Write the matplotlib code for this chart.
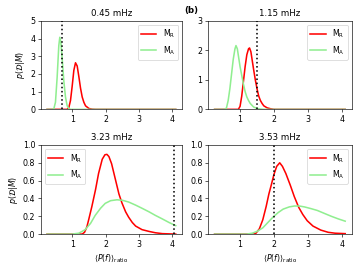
import matplotlib
matplotlib.use("Agg")
import matplotlib.pyplot as plt

titles = ["0.45 mHz", "1.15 mHz", "3.23 mHz", "3.53 mHz"]
obs_ratio = [0.70, 1.50, 4.06, 2.00]
ylims = [5, 3, 1, 1]

# Panel 1 (0.45 mHz)
r1_x = [0.25, 0.85, 0.90, 0.95, 1.00, 1.05, 1.10, 1.15, 1.20, 1.25, 1.30, 1.35, 1.40, 1.50, 1.60, 1.70, 4.10]
r1_y = [0, 0, 0.1, 0.5, 1.3, 2.2, 2.63, 2.45, 1.85, 1.2, 0.7, 0.4, 0.2, 0.05, 0.01, 0, 0]
a1_x = [0.25, 0.40, 0.45, 0.50, 0.55, 0.60, 0.63, 0.66, 0.70, 0.75, 0.80, 0.85, 0.90, 0.95, 4.10]
a1_y = [0, 0, 0.02, 0.4, 1.8, 3.6, 4.07, 3.8, 2.9, 1.6, 0.7, 0.2, 0.05, 0, 0]

# Panel 2 (1.15 mHz)
r2_x = [0.25, 0.95, 1.00, 1.05, 1.10, 1.15, 1.20, 1.25, 1.28, 1.32, 1.36, 1.40, 1.45, 1.50, 1.55,
        1.60, 1.65, 1.70, 1.80, 1.90, 2.00, 4.10]
r2_y = [0, 0, 0.1, 0.45, 0.95, 1.45, 1.85, 2.05, 2.08, 1.95, 1.65, 1.35, 1.0, 0.7, 0.45,
        0.3, 0.2, 0.12, 0.05, 0.02, 0, 0]
a2_x = [0.25, 0.55, 0.60, 0.65, 0.70, 0.75, 0.80, 0.85, 0.88, 0.92, 0.96, 1.00, 1.05, 1.10, 1.15,
        1.20, 1.25, 1.30, 1.40, 1.50, 1.60, 1.70, 4.10]
a2_y = [0, 0, 0.05, 0.3, 0.7, 1.2, 1.7, 2.05, 2.16, 2.05, 1.75, 1.45, 1.15, 0.85, 0.6,
        0.42, 0.3, 0.2, 0.08, 0.03, 0.01, 0, 0]

# Panel 3 (3.23 mHz)
r3_x = [0.25, 1.30, 1.37, 1.44, 1.50, 1.59, 1.70, 1.79, 1.90, 1.98, 2.04, 2.10, 2.18, 2.29, 2.40,
        2.49, 2.60, 2.69, 2.80, 2.90, 3.09, 3.30, 3.49, 3.70, 4.10]
r3_y = [0, 0, 0.02, 0.08, 0.17, 0.31, 0.5, 0.68, 0.84, 0.89, 0.895, 0.87, 0.79, 0.62, 0.45,
        0.35, 0.25, 0.19, 0.13, 0.09, 0.05, 0.03, 0.015, 0.005, 0]
a3_x = [0.25, 1.00, 1.20, 1.39, 1.55, 1.69, 1.85, 1.99, 2.15, 2.34, 2.50, 2.69, 2.90, 3.09, 3.30,
        3.49, 3.70, 3.90, 4.10]
a3_y = [0, 0, 0.01, 0.05, 0.12, 0.21, 0.29, 0.345, 0.375, 0.385, 0.38, 0.36, 0.325, 0.29, 0.25,
        0.21, 0.17, 0.13, 0.095]

# Panel 4 (3.53 mHz)
r4_x = [0.25, 1.40, 1.47, 1.57, 1.67, 1.77, 1.85, 1.92, 2.00, 2.08, 2.17, 2.25, 2.35, 2.48, 2.60,
        2.73, 2.85, 2.98, 3.15, 3.38, 3.60, 3.80, 4.10]
r4_y = [0, 0, 0.01, 0.06, 0.16, 0.31, 0.45, 0.55, 0.67, 0.76, 0.80, 0.76, 0.68, 0.55, 0.42,
        0.30, 0.22, 0.15, 0.09, 0.045, 0.02, 0.01, 0.005]
a4_x = [0.25, 1.20, 1.36, 1.50, 1.67, 1.82, 1.97, 2.12, 2.27, 2.45, 2.60, 2.75, 2.90, 3.10, 3.28,
        3.50, 3.69, 3.90, 4.10]
a4_y = [0, 0, 0.01, 0.03, 0.07, 0.13, 0.19, 0.24, 0.28, 0.305, 0.315, 0.315, 0.305, 0.285, 0.265,
        0.23, 0.20, 0.17, 0.145]

red_x = [r1_x, r2_x, r3_x, r4_x]
red_y = [r1_y, r2_y, r3_y, r4_y]
grn_x = [a1_x, a2_x, a3_x, a4_x]
grn_y = [a1_y, a2_y, a3_y, a4_y]

fig = plt.figure(figsize=(6.4, 4.8), dpi=56.25)
positions = [
    [0.113, 0.595, 0.393, 0.328],
    [0.578, 0.595, 0.399, 0.328],
    [0.113, 0.133, 0.393, 0.330],
    [0.578, 0.133, 0.399, 0.330],
]
legend_locs = ["upper right", "upper right", "upper left", "upper right"]

for i in range(4):
    ax = fig.add_axes(positions[i])
    ax.plot(red_x[i], red_y[i], color="red", lw=2, label=r"M$_{\rm R}$")
    ax.plot(grn_x[i], grn_y[i], color="lightgreen", lw=2, label=r"M$_{\rm A}$")
    ax.axvline(obs_ratio[i], color="black", ls=":", lw=2)
    ax.set_ylim(0, ylims[i])
    ax.set_xticks([1, 2, 3, 4])
    ax.set_title(titles[i], fontsize=11)
    ax.legend(loc=legend_locs[i])
    if i % 2 == 0:
        ax.set_ylabel(r"$p(\mathcal{D}|M)$")
    if i >= 2:
        ax.set_xlabel(r"$\langle P(f)\rangle_{\rm ratio}$")

fig.text(0.511, 0.978, "(b)", fontsize=11, fontweight="bold", va="top", ha="left")

fig.savefig("out.png", dpi=56.25)
